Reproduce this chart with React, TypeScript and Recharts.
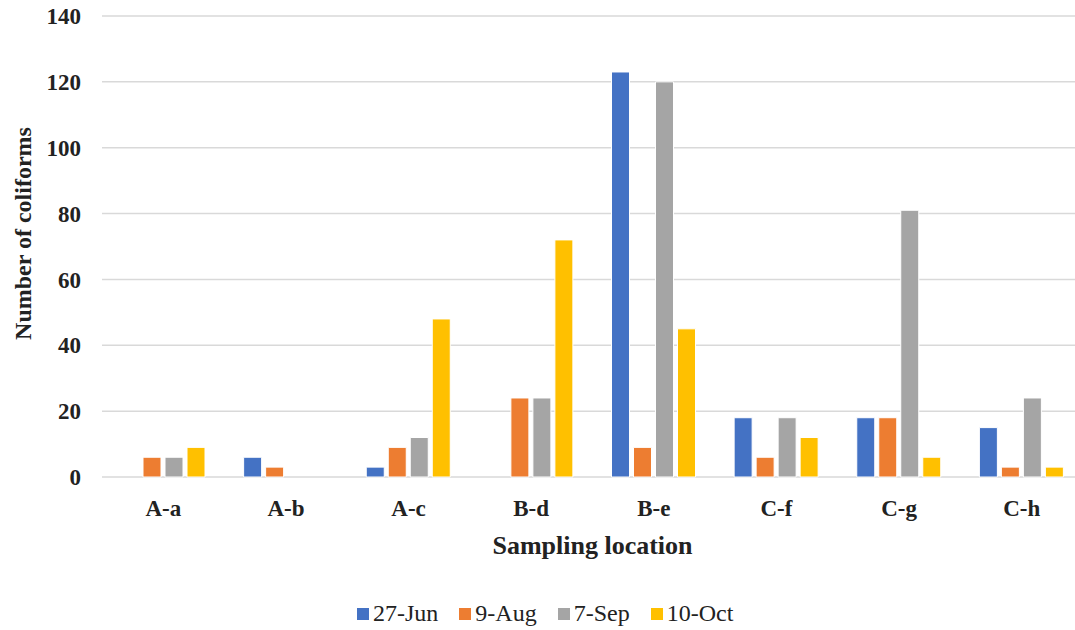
import { Bar, BarChart, CartesianGrid, Legend, XAxis, YAxis } from 'recharts';

const locations = ['A-a', 'A-b', 'A-c', 'B-d', 'B-e', 'C-f', 'C-g', 'C-h'];
const jun27 = [0, 6, 3, 0, 123, 18, 18, 15];
const aug9 = [6, 3, 9, 24, 9, 6, 18, 3];
const sep7 = [6, 0, 12, 24, 120, 18, 81, 24];
const oct10 = [9, 0, 48, 72, 45, 12, 6, 3];
const yTicks = [0, 20, 40, 60, 80, 100, 120, 140];

const series = [
  { key: 'jun', name: '27-Jun', color: '#4472C4' },
  { key: 'aug', name: '9-Aug', color: '#ED7D31' },
  { key: 'sep', name: '7-Sep', color: '#A5A5A5' },
  { key: 'oct', name: '10-Oct', color: '#FFC000' },
];

const data = locations.map((loc, i) => ({
  loc,
  jun: jun27[i],
  aug: aug9[i],
  sep: sep7[i],
  oct: oct10[i],
}));

const FONT = "'Times New Roman', 'Liberation Serif', serif";

function LegendRow() {
  return (
    <div style={{ display: 'flex', gap: 21, fontFamily: FONT, fontSize: 24, color: '#222' }}>
      {series.map((s) => (
        <div key={s.key} style={{ display: 'flex', alignItems: 'center' }}>
          <span style={{ width: 12, height: 12, background: s.color, marginRight: 4, display: 'inline-block' }} />
          <span>{s.name}</span>
        </div>
      ))}
    </div>
  );
}

export default function App() {
  return (
    <div style={{ position: 'absolute', left: 0, top: 0, width: 1075, height: 630, overflow: 'hidden', background: '#fff' }}>
      <BarChart
        width={1083}
        height={630}
        data={data}
        margin={{ top: 16, right: 0, left: 0, bottom: 46 }}
        barCategoryGap={19}
        barGap={4}
      >
        <CartesianGrid vertical={false} stroke="#D9D9D9" strokeWidth={1.5} />
        <XAxis
          dataKey="loc"
          axisLine={false}
          tickLine={false}
          height={80}
          tickMargin={17}
          tick={{ fontFamily: FONT, fontSize: 23, fontWeight: 'bold', fill: '#222' }}
          label={{
            value: 'Sampling location',
            position: 'insideBottom',
            offset: 3,
            style: { fontFamily: FONT, fontSize: 26, fontWeight: 'bold', fill: '#222' },
          }}
        />
        <YAxis
          domain={[0, 140]}
          ticks={yTicks}
          width={102}
          axisLine={false}
          tickLine={false}
          tickMargin={15}
          tick={{ fontFamily: FONT, fontSize: 23, fontWeight: 'bold', fill: '#222' }}
          label={{
            value: 'Number of coliforms',
            angle: -90,
            position: 'center',
            dx: -29,
            dy: -13,
            style: { fontFamily: FONT, fontSize: 24, fontWeight: 'bold', fill: '#222', textAnchor: 'middle' },
          }}
        />
        <Legend
          verticalAlign="bottom"
          content={() => <LegendRow />}
          wrapperStyle={{ left: 357, bottom: 3, width: 'auto' }}
        />
        {series.map((s) => (
          <Bar
            key={s.key}
            dataKey={s.key}
            name={s.name}
            fill={s.color}
            stroke="#fff"
            strokeWidth={1}
            isAnimationActive={false}
          />
        ))}
      </BarChart>
    </div>
  );
}
